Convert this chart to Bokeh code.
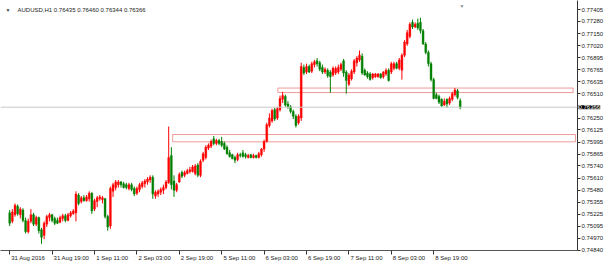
from bokeh.plotting import figure
from bokeh.models import Range1d, FixedTicker, PrintfTickFormatter, Span, Label
from bokeh.embed import file_html
from bokeh.resources import INLINE

symbol = "AUDUSD,H1"

# x-axis: bar index of each time label, and the label text
tick_bars = [0, 16, 32, 48, 64, 80, 96, 112, 128, 144, 160]
tick_labels = ["31 Aug 2016", "31 Aug 19:00", "1 Sep 11:00", "2 Sep 03:00", "2 Sep 19:00",
               "5 Sep 11:00", "6 Sep 03:00", "6 Sep 19:00", "7 Sep 11:00", "8 Sep 03:00",
               "8 Sep 19:00"]

# right price-axis labels
price_ticks = [0.77405, 0.77280, 0.77150, 0.77020, 0.76895, 0.76765, 0.76635, 0.76510,
               0.76250, 0.76125, 0.75995, 0.75865, 0.75740, 0.75610, 0.75480, 0.75355,
               0.75225, 0.75095, 0.74970, 0.74840]

opens = [
    0.7524, 0.7515, 0.7522, 0.7531, 0.7522, 0.7527, 0.7516, 0.7504, 0.7515, 0.7522,
    0.7512, 0.7519, 0.7506, 0.7500, 0.7512, 0.7519, 0.7522, 0.7518, 0.7516, 0.7514,
    0.7518, 0.7521, 0.7516, 0.7521, 0.7523, 0.7524, 0.7543, 0.7536, 0.7540, 0.7537,
    0.7539, 0.7545, 0.7528, 0.7536, 0.7539, 0.7538, 0.7539, 0.7520, 0.7510, 0.7547,
    0.7551, 0.7554, 0.7557, 0.7555, 0.7554, 0.7550, 0.7554, 0.7550, 0.7545, 0.7549,
    0.7552, 0.7555, 0.7557, 0.7559, 0.7562, 0.7542, 0.7544, 0.7546, 0.7548, 0.7551,
    0.7556, 0.7585, 0.7558, 0.7548, 0.7557, 0.7567, 0.7564, 0.7566, 0.7568, 0.7568,
    0.7566, 0.7575, 0.7564, 0.7580, 0.7583, 0.7593, 0.7595, 0.7603, 0.7598, 0.7601,
    0.7600, 0.7598, 0.7594, 0.7588, 0.7586, 0.7583, 0.7581, 0.7586, 0.7588, 0.7586,
    0.7583, 0.7586, 0.7583, 0.7585, 0.7583, 0.7586, 0.7592, 0.7600, 0.7617, 0.7622,
    0.7634, 0.7625, 0.7634, 0.7645, 0.7648, 0.7640, 0.7637, 0.7632, 0.7627, 0.7620,
    0.7625, 0.7679, 0.7674, 0.7680, 0.7675, 0.7682, 0.7686, 0.7684, 0.7679, 0.7674,
    0.7676, 0.7674, 0.7671, 0.7673, 0.7674, 0.7677, 0.7686, 0.7674, 0.7661, 0.7667,
    0.7674, 0.7684, 0.7687, 0.7691, 0.7676, 0.7673, 0.7672, 0.7668, 0.7669, 0.7669,
    0.7672, 0.7669, 0.7672, 0.7676, 0.7674, 0.7678, 0.7683, 0.7678, 0.7676, 0.7692,
    0.7704, 0.7712, 0.7727, 0.7722, 0.7726, 0.7727, 0.7718, 0.7704, 0.7695, 0.7683,
    0.7666, 0.7650, 0.7648, 0.7645, 0.7639, 0.7645, 0.7641, 0.7645, 0.7650, 0.7654,
    0.76435]

highs = [
    0.7527, 0.7528, 0.7534, 0.7533, 0.7530, 0.7529, 0.7519, 0.7518, 0.7528, 0.7524,
    0.7521, 0.7520, 0.7508, 0.7515, 0.7522, 0.7524, 0.7523, 0.7520, 0.7519, 0.7521,
    0.7523, 0.7523, 0.7524, 0.7526, 0.7528, 0.7547, 0.7545, 0.7542, 0.7543, 0.7543,
    0.7547, 0.7546, 0.7539, 0.7542, 0.7543, 0.7542, 0.7540, 0.7522, 0.7552, 0.7556,
    0.7559, 0.7559, 0.7558, 0.7557, 0.7556, 0.7556, 0.7556, 0.7552, 0.7552, 0.7556,
    0.7558, 0.7560, 0.7562, 0.7564, 0.7564, 0.7548, 0.7549, 0.7551, 0.7554, 0.7559,
    0.7616, 0.7594, 0.7564, 0.7556, 0.7567, 0.7569, 0.7569, 0.7571, 0.7573, 0.7575,
    0.7576, 0.7577, 0.7581, 0.7589, 0.7596, 0.7598, 0.7602, 0.7606, 0.7603, 0.7603,
    0.7605, 0.7600, 0.7596, 0.7591, 0.7587, 0.7585, 0.7588, 0.7588, 0.7591, 0.7588,
    0.7587, 0.7587, 0.7587, 0.7586, 0.7589, 0.7593, 0.7602, 0.7620, 0.7630, 0.7635,
    0.7636, 0.7637, 0.7649, 0.7653, 0.7650, 0.7643, 0.7639, 0.7634, 0.7629, 0.7629,
    0.7684, 0.7682, 0.7683, 0.7682, 0.7685, 0.7687, 0.7689, 0.7686, 0.7682, 0.7679,
    0.7678, 0.7676, 0.7680, 0.7680, 0.7682, 0.7684, 0.7688, 0.7676, 0.7673, 0.7677,
    0.7688, 0.7691, 0.7697, 0.7694, 0.7678, 0.7675, 0.7674, 0.7673, 0.7673, 0.7673,
    0.7673, 0.7675, 0.7678, 0.7678, 0.7685, 0.7685, 0.7685, 0.7689, 0.7694, 0.7708,
    0.7719, 0.7727, 0.7730, 0.7727, 0.7731, 0.7732, 0.7720, 0.7706, 0.7697, 0.7685,
    0.7668, 0.7652, 0.7650, 0.7646, 0.7646, 0.7646, 0.7648, 0.7653, 0.7657, 0.7656,
    0.76460]

lows = [
    0.7510, 0.7513, 0.7520, 0.7521, 0.7518, 0.7514, 0.7502, 0.7502, 0.7513, 0.7510,
    0.7510, 0.7502, 0.7491, 0.7496, 0.7509, 0.7515, 0.7514, 0.7511, 0.7512, 0.7513,
    0.7515, 0.7514, 0.7515, 0.7519, 0.7522, 0.7515, 0.7532, 0.7534, 0.7536, 0.7536,
    0.7536, 0.7523, 0.7526, 0.7530, 0.7537, 0.7534, 0.7518, 0.7505, 0.7507, 0.7541,
    0.7548, 0.7551, 0.7551, 0.7550, 0.7549, 0.7548, 0.7547, 0.7542, 0.7543, 0.7546,
    0.7550, 0.7551, 0.7554, 0.7556, 0.7539, 0.7539, 0.7541, 0.7543, 0.7544, 0.7549,
    0.7555, 0.7549, 0.7541, 0.7546, 0.7556, 0.7561, 0.7562, 0.7565, 0.7566, 0.7567,
    0.7564, 0.7562, 0.7562, 0.7578, 0.7581, 0.7591, 0.7593, 0.7596, 0.7596, 0.7596,
    0.7594, 0.7591, 0.7586, 0.7583, 0.7581, 0.7577, 0.7579, 0.7583, 0.7583, 0.7582,
    0.7582, 0.7582, 0.7582, 0.7582, 0.7582, 0.7584, 0.7589, 0.7599, 0.7615, 0.7620,
    0.7622, 0.7623, 0.7632, 0.7641, 0.7637, 0.7635, 0.7630, 0.7624, 0.7615, 0.7618,
    0.7622, 0.7671, 0.7672, 0.7673, 0.7673, 0.7679, 0.7680, 0.7675, 0.7672, 0.7672,
    0.7668, 0.7652, 0.7669, 0.7671, 0.7672, 0.7675, 0.7669, 0.7651, 0.7659, 0.7665,
    0.7672, 0.7680, 0.7685, 0.7671, 0.7670, 0.7667, 0.7665, 0.7666, 0.7668, 0.7668,
    0.7667, 0.7667, 0.7670, 0.7664, 0.7672, 0.7676, 0.7677, 0.7676, 0.7666, 0.7690,
    0.7702, 0.7710, 0.7720, 0.7721, 0.7719, 0.7715, 0.7703, 0.7693, 0.7680, 0.7664,
    0.7645, 0.7645, 0.7640, 0.7637, 0.7638, 0.7636, 0.7639, 0.7643, 0.7648, 0.7645,
    0.76344]

closes = [
    0.7513, 0.7525, 0.7532, 0.7523, 0.7528, 0.7516, 0.7504, 0.7515, 0.7522, 0.7512,
    0.7519, 0.7505, 0.7498, 0.7513, 0.7520, 0.7522, 0.7516, 0.7513, 0.7513, 0.7519,
    0.7521, 0.7516, 0.7522, 0.7524, 0.7526, 0.7544, 0.7534, 0.7540, 0.7537, 0.7541,
    0.7545, 0.7526, 0.7537, 0.7540, 0.7541, 0.7540, 0.7520, 0.7509, 0.7550, 0.7554,
    0.7557, 0.7557, 0.7554, 0.7551, 0.7551, 0.7554, 0.7549, 0.7544, 0.7550, 0.7554,
    0.7556, 0.7558, 0.7560, 0.7562, 0.7544, 0.7546, 0.7547, 0.7549, 0.7551, 0.7557,
    0.7583, 0.7554, 0.7548, 0.7554, 0.7565, 0.7563, 0.7567, 0.7569, 0.7570, 0.7573,
    0.7574, 0.7564, 0.7579, 0.7587, 0.7594, 0.7596, 0.7600, 0.7598, 0.7601, 0.7598,
    0.7596, 0.7592, 0.7587, 0.7584, 0.7582, 0.7580, 0.7586, 0.7585, 0.7584, 0.7584,
    0.7585, 0.7583, 0.7585, 0.7583, 0.7587, 0.7592, 0.7600, 0.7618, 0.7625, 0.7633,
    0.7624, 0.7635, 0.7646, 0.7649, 0.7639, 0.7637, 0.7632, 0.7627, 0.7617, 0.7627,
    0.7680, 0.7673, 0.7680, 0.7674, 0.7683, 0.7685, 0.7683, 0.7677, 0.7674, 0.7677,
    0.7670, 0.7669, 0.7678, 0.7678, 0.7679, 0.7682, 0.7673, 0.7665, 0.7671, 0.7675,
    0.7686, 0.7689, 0.7692, 0.7673, 0.7671, 0.7669, 0.7666, 0.7672, 0.7672, 0.7672,
    0.7668, 0.7674, 0.7676, 0.7665, 0.7683, 0.7683, 0.7678, 0.7687, 0.7692, 0.7706,
    0.7716, 0.7725, 0.7722, 0.7725, 0.7721, 0.7718, 0.7704, 0.7695, 0.7683, 0.7666,
    0.7646, 0.7646, 0.7642, 0.7638, 0.7643, 0.7640, 0.7646, 0.7651, 0.7655, 0.7647,
    0.76366]

# drawn rectangle zones (bar index span, price span)
zone_start = [101.2, 61.5]
zone_end = [212.6, 213.5]
zone_top = [0.76570, 0.76075]
zone_bottom = [0.76522, 0.75997]

UP = "#ff0000"
DOWN = "#008000"
FONT = "Liberation Sans"
FONT_PX = 6
TXT = "#222222"

# layout (pixels)
BAR_PX = 2.65
FW, FH = 577, 250
x_start = -9.2 / BAR_PX
x_end = x_start + FW / BAR_PX
y_lo, y_hi = 0.74839, 0.77503

def sx(px):
    return x_start + px / BAR_PX

def sy(py):
    return y_hi - py * (y_hi - y_lo) / FH

# approximate Liberation Sans advance widths (em) for placing left-aligned time labels
EM = {"0": .556, "1": .556, "2": .556, "3": .556, "4": .556, "5": .556, "6": .556, "7": .556,
      "8": .556, "9": .556, " ": .278, ":": .278, "A": .667, "S": .667, "u": .556, "g": .556,
      "e": .556, "p": .556}

def text_px(s):
    return sum(EM.get(ch, .556) for ch in s) * FONT_PX

n = len(opens)
xs = list(range(n))
colors = [UP if c >= o else DOWN for o, c in zip(opens, closes)]
tops = [max(o, c) for o, c in zip(opens, closes)]
bots = [min(o, c) for o, c in zip(opens, closes)]

p = figure(frame_width=FW, frame_height=FH,
           x_range=Range1d(x_start, x_end), y_range=Range1d(y_lo, y_hi),
           output_backend="svg", toolbar_location=None,
           y_axis_location="right", x_axis_location="below",
           min_border_left=0, min_border_top=0, min_border_right=0, min_border_bottom=0,
           background_fill_color="white", border_fill_color="white")
p.outline_line_color = None
p.grid.visible = False

# zones
p.quad(left=zone_start, right=zone_end, top=zone_top, bottom=zone_bottom,
       fill_alpha=0, line_color="#f19a9a", line_width=1)

# current price line
p.add_layout(Span(location=closes[-1], dimension="width", line_color="#c9c9c9", line_width=1))

# candles
p.segment(x0=xs, y0=highs, x1=xs, y1=lows, line_color=colors, line_width=1)
p.vbar(x=xs, top=tops, bottom=bots, width=0.72, fill_color=colors, line_color=colors, line_width=0.4)

# right price axis
ya = p.yaxis[0]
ya.ticker = FixedTicker(ticks=price_ticks)
ya.formatter = PrintfTickFormatter(format="%.5f")
ya.axis_line_color = "#333333"
ya.major_tick_line_color = "#333333"
ya.minor_tick_line_color = None
ya.major_tick_in = 0
ya.major_tick_out = 3
ya.major_label_standoff = 1
ya.major_label_text_font = FONT
ya.major_label_text_font_size = f"{FONT_PX}px"
ya.major_label_text_color = TXT

# time axis: labels start just right of their tick marks (tick marks drawn as minor ticks)
label_pos = [round(b + (1.5 + text_px(t) / 2) / BAR_PX, 3) for b, t in zip(tick_bars, tick_labels)]
xa = p.xaxis[0]
xa.ticker = FixedTicker(ticks=label_pos, minor_ticks=tick_bars)
xa.major_label_overrides = {pos: t for pos, t in zip(label_pos, tick_labels)}
xa.axis_line_color = "#555555"
xa.major_tick_line_color = None
xa.major_tick_in = 0
xa.major_tick_out = 0
xa.minor_tick_line_color = "#333333"
xa.minor_tick_in = 0
xa.minor_tick_out = 4
xa.major_label_standoff = 0
xa.major_label_text_font = FONT
xa.major_label_text_font_size = f"{FONT_PX}px"
xa.major_label_text_color = TXT

# current price tag on the price axis (placed in the right side panel so it is not clipped)
p.add_layout(Label(x=x_end + 1 / BAR_PX, y=closes[-1], text=f"{closes[-1]:.5f}",
                   text_font=FONT, text_font_size=f"{FONT_PX}px", text_color="white",
                   text_baseline="middle", text_align="left",
                   background_fill_color="black"), "right")

# header
header = f"{symbol}  {opens[-1]:.5f} {highs[-1]:.5f} {lows[-1]:.5f} {closes[-1]:.5f}"
p.add_layout(Label(x=sx(5), y=sy(9), text="\u25BC", text_font=FONT, text_font_size="5px",
                   text_color="#444444", text_baseline="middle"))
p.add_layout(Label(x=sx(17), y=sy(9), text=header, text_font=FONT, text_font_size=f"{FONT_PX}px",
                   text_color=TXT, text_baseline="middle"))
# chart-shift marker
p.add_layout(Label(x=sx(459), y=sy(5), text="\u25BC", text_font=FONT, text_font_size="5px",
                   text_color="#8a8a8a", text_baseline="middle"))

open("out.html", "w").write(file_html(p, INLINE))
